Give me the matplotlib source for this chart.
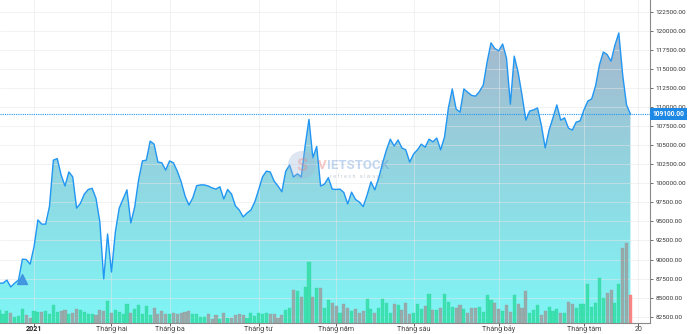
"""Daily close + volume, Dec 2020 - Aug 2021, vietstock-style area chart -> out.png"""
import numpy as np
import matplotlib

matplotlib.use("Agg")
import matplotlib.pyplot as plt
from matplotlib.colors import LinearSegmentedColormap
from matplotlib.patches import Polygon, Ellipse
from matplotlib.ticker import FormatStrFormatter

plt.rcParams["font.family"] = ["Roboto", "DejaVu Sans"]

# trading-day index of the first session of each month, "20" = 20 Aug
month_pos = [9, 29, 44, 67, 87, 107, 129, 151, 165]
month_labels = ["2021", "Tháng hai", "Tháng ba", "Tháng tư", "Tháng năm",
                "Tháng sáu", "Tháng bảy", "Tháng tám", "20"]

close = [
    86900, 86900, 87300, 86400, 86900, 87300, 90050, 90000, 89400, 91650,
    95200, 94650, 94650, 97000, 103050, 103250, 101100, 99650, 101500, 100850,
    96750, 97400, 98600, 99200, 99350, 98050, 94950, 87450, 93350, 88350,
    93600, 96750, 97950, 99150, 94800, 96900, 100450, 102950, 103050, 105550,
    105150, 102800, 102700, 101750, 102950, 102700, 101600, 100200, 98350, 97150,
    98100, 99700, 99800, 99800, 99650, 99400, 99250, 99550, 97950, 99200,
    98600, 97050, 96500, 95600, 96100, 96500, 97550, 99150, 100850, 101600,
    101500, 100300, 99650, 98900, 101600, 102400, 100850, 101250, 100850, 104900,
    108400, 103350, 104850, 99650, 99900, 100750, 99250, 99200, 99250, 98800,
    97300, 98850, 97900, 97550, 96950, 98450, 100200, 99150, 100700, 102650,
    104400, 105800, 104900, 105700, 104650, 104400, 102800, 103850, 104400, 105150,
    104750, 105800, 105450, 105950, 104400, 106100, 109900, 112400, 109750, 109350,
    112400, 111950, 111550, 111450, 112050, 112900, 115950, 118450, 117700, 117400,
    118300, 116450, 110400, 116700, 114600, 111600, 108300, 109500, 109650, 109900,
    107650, 104650, 107000, 108600, 110300, 108300, 108600, 107250, 107000, 108050,
    108200, 109650, 110800, 111100, 112800, 115550, 117250, 116900, 116050, 118150,
    119750, 114250, 110300, 109100,
]

# volume, thousand shares
volume = [
    1270, 870, 1200, 1030, 600, 700, 1370, 800, 530, 1200,
    1100, 1100, 1200, 870, 1800, 1130, 1200, 1300, 870, 1000,
    1370, 1300, 1130, 870, 870, 770, 1270, 1200, 2200, 1000,
    1270, 1130, 870, 1870, 1000, 1370, 1800, 870, 1700, 800,
    1470, 870, 1200, 870, 870, 1030, 870, 1030, 1130, 1200,
    870, 870, 630, 630, 870, 430, 770, 430, 1030, 530,
    470, 800, 870, 800, 530, 1030, 700, 970, 870, 1030,
    870, 930, 530, 800, 1270, 1530, 3270, 3200, 2600, 3600,
    6100, 2600, 3470, 3530, 1530, 2270, 2030, 1700, 1030, 1930,
    1530, 1200, 1370, 1030, 1200, 2370, 1370, 1030, 1530, 2430,
    2030, 1030, 1870, 1770, 1270, 2000, 870, 1030, 1930, 1430,
    1700, 2870, 1270, 1270, 1530, 2930, 2100, 1600, 1470, 1800,
    1430, 1030, 1530, 1530, 1600, 1100, 2800, 2300, 2030, 1370,
    1200, 1770, 1100, 2800, 1870, 1530, 3200, 1000, 1270, 1770,
    800, 1200, 1600, 1200, 1370, 1000, 1000, 2100, 1870, 1530,
    1870, 1930, 3930, 1600, 2030, 4470, 2530, 3030, 3270, 2030,
    3930, 7470, 7970, 2800,
]

last_price = 109100
event_day = 6  # small blue marker on the line area
price_ticks = np.arange(82500, 122501, 2500)

BLUE = "#2196f3"
y_lo, y_hi = 81665, 124076

fig = plt.figure(figsize=(6.9, 3.34), dpi=100)
ax = fig.add_axes([0, 0.0329, 0.942, 0.9671])
ax2 = ax.twinx()  # volume; create first, twinx moves ax's ticks to the left

xs = np.arange(len(close))

# gradient area under the close line
verts = [(xs[0], y_lo)] + list(zip(xs, close)) + [(xs[-1], y_lo)]
poly = Polygon(verts, closed=True, facecolor="none", edgecolor="none")
ax.add_patch(poly)
cmap = LinearSegmentedColormap.from_list("area", ["#7ef6f6", "#aab0c8"])
grad = np.linspace(0, 1, 256).reshape(-1, 1)
im = ax.imshow(grad, extent=[xs[0], xs[-1], y_lo, y_hi], origin="lower",
               aspect="auto", cmap=cmap, zorder=1)
im.set_clip_path(poly)
ax.plot(xs, close, color=BLUE, lw=1.0, zorder=4)

ax.set_xlim(0.22, 168.05)
ax.set_ylim(y_lo, y_hi)

# grid
for p in price_ticks:
    ax.axhline(p, color="#e6e6e6", lw=0.6, alpha=0.6, zorder=2)
for m in month_pos:
    ax.axvline(m, color="#e6e6e6", lw=0.6, alpha=0.6, zorder=2)

# last price line + label
ax.axhline(last_price, color=BLUE, lw=0.8, ls=(0, (1, 1)), zorder=5)
ax.text(1.004, last_price, f"{last_price:.2f}", transform=ax.get_yaxis_transform(),
        ha="left", va="center", fontsize=4.8, fontweight="bold", color="white",
        zorder=6, clip_on=False,
        bbox=dict(boxstyle="square,pad=0.35", fc="#1e88e5", ec="none"))

# event marker
ax.plot(event_day, 87480, marker="^", ms=7, color="#3d8fe0", alpha=0.9, zorder=6)

# axes styling
ax.yaxis.tick_right()
ax.set_yticks(price_ticks)
ax.yaxis.set_major_formatter(FormatStrFormatter("%.2f"))
ax.tick_params(axis="y", labelsize=4.6, colors="#333333", length=2, width=0.5, pad=2,
               left=False, labelleft=False, right=True, labelright=True)
ax.set_xticks(month_pos, month_labels)
ax.tick_params(axis="x", labelsize=5.1, colors="#444444", length=2, width=0.6, pad=3.9)
for lab in ax.get_xticklabels():
    lab.set_verticalalignment("baseline")  # keep diacritics from shifting labels
ax.get_xticklabels()[0].set_fontweight("bold")
ax.get_xticklabels()[0].set_color("#222222")
for s in ["left", "top"]:
    ax.spines[s].set_visible(False)
for s in ["right", "bottom"]:
    ax.spines[s].set_color("#8a8a8a")
    ax.spines[s].set_linewidth(0.8)

# volume bars
bar_colors = []
for i in range(len(close)):
    if i == len(close) - 1:
        bar_colors.append("#ff6b6b")
    elif i == 0 or close[i] >= close[i - 1]:
        bar_colors.append("#2edba0")
    else:
        bar_colors.append("#9b9b9b")
ax2.bar(xs, volume, width=0.8, color=bar_colors, alpha=0.8,
        edgecolor=bar_colors, linewidth=0.3, zorder=3)
ax2.set_ylim(0, 32300)
ax2.set_xlim(0.22, 168.05)
ax2.tick_params(axis="y", right=False, labelright=False, left=False, labelleft=False)
ax2.tick_params(axis="x", bottom=False, labelbottom=False)
for s in ax2.spines.values():
    s.set_visible(False)

# watermark
fig.patches.append(Ellipse((302 / 690, 1 - 165 / 334), 28 / 690, 28 / 334,
                           transform=fig.transFigure, fc="#9fb8d8", ec="none",
                           alpha=0.35, zorder=0))
fig.text(302 / 690, 1 - 166 / 334, "S", ha="center", va="center", fontsize=13,
         fontweight="bold", color="#e88080", alpha=0.35)
fig.text(318 / 690, 1 - 165 / 334, "V", ha="left", va="center", fontsize=9.5,
         fontweight="bold", color="#e88080", alpha=0.45)
fig.text(327 / 690, 1 - 165 / 334, "IETSTOCK", ha="left", va="center", fontsize=9.5,
         fontweight="bold", color="#6a9ad8", alpha=0.4)
fig.text(330 / 690, 1 - 176 / 334, "r e f r e s h   a l w a y s", ha="left",
         va="center", fontsize=4, color="#8899aa", alpha=0.45)

fig.savefig("out.png", dpi=100)
